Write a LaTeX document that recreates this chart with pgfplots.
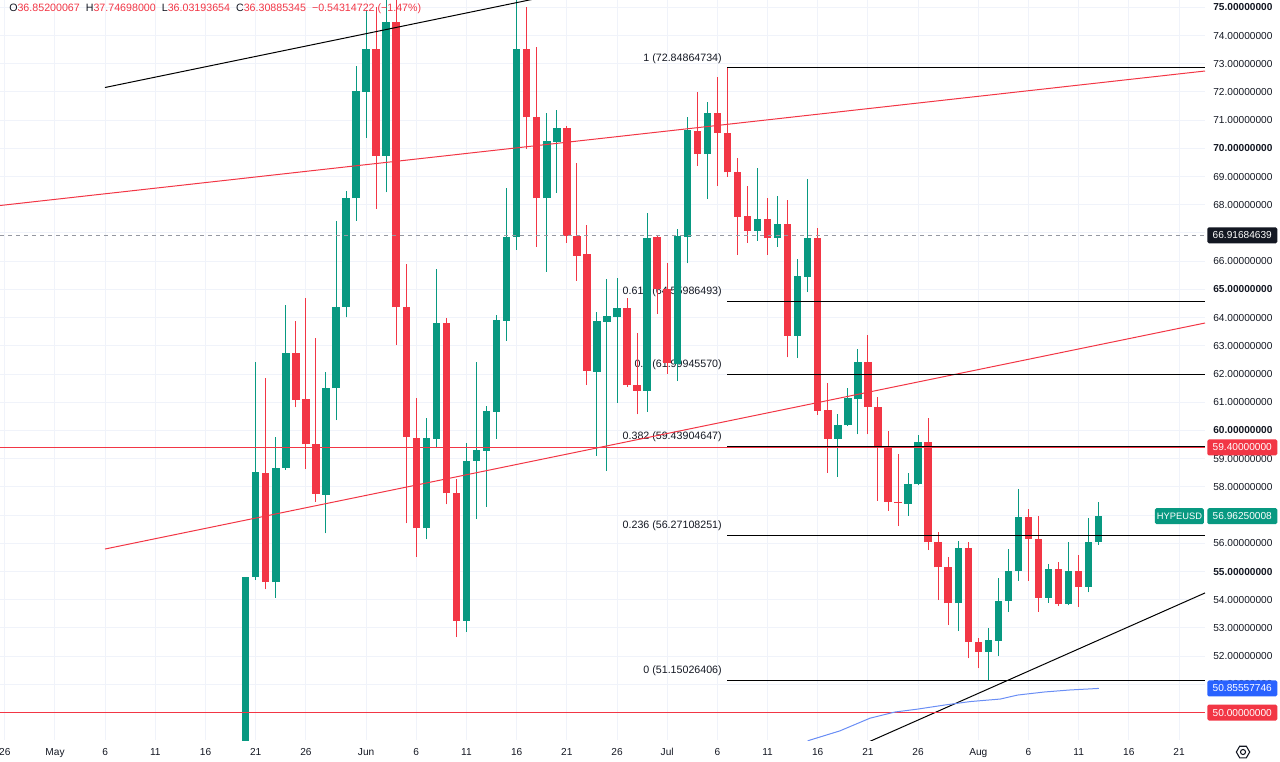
\documentclass[border=0pt]{standalone}
\usepackage{pgfplots}
\pgfplotsset{compat=1.18}
\usepackage{pgfplotstable}
\usepackage{fontspec}
\setmainfont{Liberation Sans}
\usetikzlibrary{calc}

\definecolor{up}{HTML}{089981}
\definecolor{dn}{HTML}{F23645}
\definecolor{txt}{HTML}{131722}
\definecolor{gridc}{HTML}{F0F3FA}
\definecolor{maline}{HTML}{6A8EF5}
\definecolor{tagblue}{HTML}{2962FF}
\definecolor{dashc}{HTML}{9598A1}

\pgfplotstableread{
d o h l c
19 47.00 54.81 46.50 54.81
20 54.80 62.44 54.70 58.54
22 54.62 59.78 54.07 58.68
23 58.68 64.45 58.60 62.76
27 57.72 62.06 56.35 61.49
28 61.49 67.42 60.37 64.39
29 64.39 68.50 64.01 68.25
30 68.23 72.93 67.44 72.03
31 72.01 74.90 70.38 73.52
33 69.73 75.50 68.44 74.47
37 56.53 60.43 56.14 59.72
38 59.70 65.71 59.37 63.80
41 53.26 59.54 52.87 58.92
42 58.93 62.44 56.86 59.31
43 59.28 60.87 57.30 60.69
44 60.66 64.09 59.70 63.92
45 63.89 68.58 63.18 66.87
46 66.87 75.30 66.40 73.51
49 68.23 71.26 65.63 70.26
50 70.24 71.36 68.43 70.71
54 62.08 64.19 59.11 63.88
55 63.86 65.36 58.56 64.06
56 64.03 65.39 60.99 64.33
59 61.40 67.70 60.67 66.84
62 62.34 67.13 61.75 66.89
63 66.87 71.10 65.92 70.65
65 69.80 71.63 68.20 71.26
70 67.08 69.29 66.72 67.49
72 66.83 68.31 66.51 67.31
74 63.36 66.07 62.56 65.47
75 65.45 68.91 64.90 66.81
78 59.70 60.57 58.36 60.20
79 60.19 61.49 60.15 61.14
80 61.11 62.88 59.86 62.44
85 57.39 58.48 56.97 58.10
86 58.09 59.84 58.05 59.58
90 53.87 56.09 52.89 55.84
93 52.16 52.98 51.15 52.57
94 52.55 54.78 52.00 53.96
95 53.95 55.79 53.58 55.03
96 55.02 57.91 54.67 56.94
99 54.07 55.27 53.89 55.08
101 53.84 56.03 53.80 55.03
103 54.46 56.88 54.26 56.03
104 56.03 57.45 55.95 56.96
}\upc

\pgfplotstableread{
d o h l c
21 58.50 61.85 54.37 54.62
24 62.76 63.89 60.82 61.08
25 61.10 64.71 58.63 59.51
26 59.51 63.29 57.47 57.75
32 73.52 75.00 67.85 69.73
34 74.47 75.30 63.03 64.36
35 64.36 65.90 56.71 59.76
36 59.73 61.14 55.53 56.53
39 63.80 63.97 57.38 57.77
40 57.79 58.28 52.67 53.26
47 73.51 75.00 69.97 71.10
48 71.10 73.60 66.51 68.23
51 70.71 70.79 66.66 66.89
52 66.89 69.47 65.31 66.20
53 66.24 67.28 61.61 62.11
57 64.33 64.68 61.55 61.61
58 61.61 63.44 60.57 61.40
60 66.87 66.90 64.13 65.00
61 65.00 65.92 62.00 62.38
64 70.63 71.99 69.39 69.80
66 71.26 72.52 68.68 70.56
67 70.56 72.85 68.99 69.15
68 69.15 69.67 66.22 67.58
69 67.60 68.67 66.66 67.08
71 67.49 68.23 66.22 66.83
73 67.31 68.17 62.59 63.36
76 66.81 67.17 60.55 60.70
77 60.73 61.67 58.50 59.70
81 62.44 63.38 59.86 60.84
82 60.84 61.17 57.51 59.37
83 59.39 59.99 57.15 57.47
84 57.47 59.15 56.61 57.42
87 59.58 60.43 55.76 56.03
88 56.03 56.41 53.99 55.15
89 55.15 55.53 53.10 53.87
91 55.84 56.06 51.92 52.51
92 52.51 52.65 51.57 52.16
97 56.94 57.20 54.67 56.15
98 56.15 56.98 53.58 54.07
100 55.08 55.32 53.77 53.84
102 55.03 55.58 53.75 54.46
}\dnc

\begin{document}
\begin{tikzpicture}[x=1pt,y=1pt]
\useasboundingbox (0,0) rectangle (960,-570.75);
\begin{axis}[
  at={(0,0)}, anchor=north west,
  scale only axis, width=903.75pt, height=555pt,
  xmin=-5.480, xmax=114.587, ymin=49.027, ymax=75.259,
  axis line style={draw=none},
  major tick length=0pt,
  grid=major, major grid style={gridc, line width=0.75pt},
  xtick={-5,0,5,10,15,20,25,31,36,41,46,51,56,61,66,71,76,81,86,92,97,102,107,112},
  xticklabels={26,May,6,11,16,21,26,Jun,6,11,16,21,26,Jul,6,11,16,21,26,Aug,6,11,16,21},
  ytick={50,51,52,53,54,56,57,58,59,61,62,63,64,66,67,68,69,71,72,73,74},
  yticklabels={50.00000000,51.00000000,52.00000000,53.00000000,54.00000000,56.00000000,57.00000000,58.00000000,59.00000000,61.00000000,62.00000000,63.00000000,64.00000000,66.00000000,67.00000000,68.00000000,69.00000000,71.00000000,72.00000000,73.00000000,74.00000000},
  extra y ticks={55,60,65,70,75},
  extra y tick labels={55.00000000,60.00000000,65.00000000,70.00000000,75.00000000},
  extra y tick style={grid=major, yticklabel style={font=\fontsize{7.6}{9}\selectfont\bfseries}},
  yticklabel pos=right,
  tick label style={font=\fontsize{7.6}{9}\selectfont, text=txt},
  yticklabel style={anchor=west, inner sep=0pt, xshift=6pt},
  xticklabel style={anchor=base, inner sep=0pt, yshift=-11.8pt},
]
% fib labels (under candles)
\begin{scope}[every node/.style={anchor=base east, inner sep=0pt, yshift=5.2pt, font=\fontsize{8}{9}\selectfont, text=txt}]
\node at (axis cs:66.46,72.84864734) {1 (72.84864734)};
\node at (axis cs:66.46,64.55986493) {0.618 (64.55986493)};
\node at (axis cs:66.46,61.99945570) {0.5 (61.99945570)};
\node at (axis cs:66.46,59.43904647) {0.382 (59.43904647)};
\node at (axis cs:66.46,56.27108251) {0.236 (56.27108251)};
\node at (axis cs:66.46,51.15026406) {0 (51.15026406)};
\end{scope}
% wicks
\addplot[draw=none, mark=none, error bars/.cd, y dir=plus, y explicit, error mark=none,
  error bar style={draw=up, line width=0.75pt}]
  table[x=d, y=l, y error plus expr=\thisrow{h}-\thisrow{l}] {\upc};
\addplot[draw=none, mark=none, error bars/.cd, y dir=plus, y explicit, error mark=none,
  error bar style={draw=dn, line width=0.75pt}]
  table[x=d, y=l, y error plus expr=\thisrow{h}-\thisrow{l}] {\dnc};
% bodies
\addplot[draw=none, mark=none, error bars/.cd, y dir=plus, y explicit, error mark=none,
  error bar style={draw=up, line width=5.6pt}]
  table[x=d, y=o, y error plus expr=\thisrow{c}-\thisrow{o}] {\upc};
\addplot[draw=none, mark=none, error bars/.cd, y dir=plus, y explicit, error mark=none,
  error bar style={draw=dn, line width=5.6pt}]
  table[x=d, y=c, y error plus expr=\thisrow{o}-\thisrow{c}] {\dnc};
% channel lines
\addplot[dn, line width=0.75pt] coordinates {(-5.48,67.974) (114.587,72.742)};
\addplot[dn, line width=0.75pt] coordinates {(4.98,55.797) (114.587,63.809)};
\addplot[black, line width=0.75pt] coordinates {(4.98,72.157) (50,75.46)};
\addplot[black, line width=0.75pt] coordinates {(80,48.79) (114.587,54.24)};
% horizontal levels
\addplot[dn, line width=0.75pt] coordinates {(-5.48,59.4) (114.587,59.4)};
\addplot[dn, line width=0.75pt] coordinates {(-5.48,50) (114.587,50)};
\addplot[dashc, line width=0.75pt, dash pattern=on 3pt off 3pt] coordinates {(-5.48,66.91684639) (114.587,66.91684639)};
% fib lines
\addplot[black, line width=0.75pt] coordinates {(66.96,72.84864734) (114.587,72.84864734)};
\addplot[black, line width=0.75pt] coordinates {(66.96,64.55986493) (114.587,64.55986493)};
\addplot[black, line width=0.75pt] coordinates {(66.96,61.99945570) (114.587,61.99945570)};
\addplot[black, line width=0.75pt] coordinates {(66.96,59.43904647) (114.587,59.43904647)};
\addplot[black, line width=0.75pt] coordinates {(66.96,56.27108251) (114.587,56.27108251)};
\addplot[black, line width=0.75pt] coordinates {(66.96,51.15026406) (114.587,51.15026406)};
% moving average
\addplot[maline, line width=0.75pt] coordinates {(75.0,49.00) (78.2,49.35) (81.2,49.80) (83.7,50.02) (85.9,50.12) (88.7,50.27) (91.2,50.39) (94.2,50.48) (95.9,50.62) (98.6,50.73) (101.1,50.80) (104,50.856)};
% tag anchors
\coordinate (tA) at (axis cs:114.587,66.91684639);
\coordinate (tB) at (axis cs:114.587,59.4);
\coordinate (tC) at (axis cs:114.587,56.9625);
\coordinate (tD) at (axis cs:114.587,50.85557746);
\coordinate (tE) at (axis cs:114.587,50);
\end{axis}
\tikzset{tag/.style={anchor=west, inner sep=0pt, minimum width=52.5pt, minimum height=12pt, rounded corners=1.2pt, text=white, font=\fontsize{7.6}{9}\selectfont}}
\node[tag, fill=txt] at ($(tA)+(1.5,0)$) {66.91684639};
\node[tag, fill=dn] at ($(tB)+(1.5,0)$) {59.40000000};
\node[tag, fill=up] at ($(tC)+(1.5,0)$) {56.96250008};
\node[tag, fill=up, anchor=east, minimum width=36.75pt, font=\fontsize{7}{9}\selectfont] at ($(tC)+(-0.6,0)$) {HYPEUSD};
\node[tag, fill=tagblue] at ($(tD)+(1.5,0)$) {50.85557746};
\node[tag, fill=dn] at ($(tE)+(1.5,0)$) {50.00000000};
% OHLC legend
\node[anchor=west, inner sep=0pt, font=\fontsize{8}{9}\selectfont] at (6.75,-6.9)
 {{\color{txt}O}{\color{dn}36.85200067}\hspace{4.5pt}{\color{txt}H}{\color{dn}37.74698000}\hspace{4.5pt}{\color{txt}L}{\color{dn}36.03193654}\hspace{4.5pt}{\color{txt}C}{\color{dn}36.30885345}\hspace{4.5pt}{\color{dn}−0.54314722 (−1.47\%)}};
% settings icon
\draw[txt, line width=0.8pt] (932.25,-564) +(0:5) -- +(60:5) -- +(120:5) -- +(180:5) -- +(240:5) -- +(300:5) -- cycle;
\draw[txt, line width=0.8pt] (932.25,-564) circle (1.9);
\end{tikzpicture}
\end{document}
